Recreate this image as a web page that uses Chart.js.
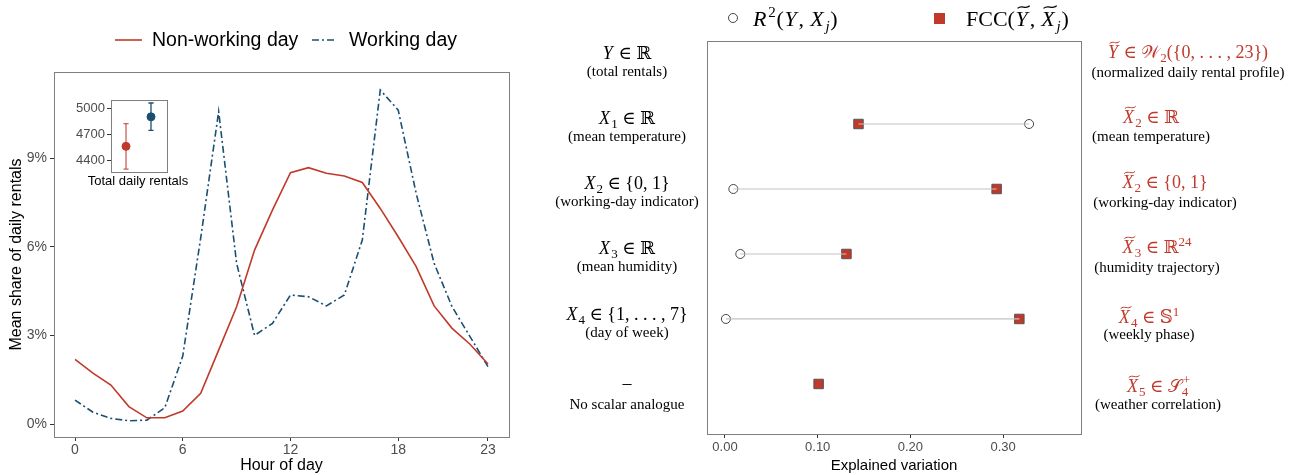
<!DOCTYPE html>
<html lang="en">
<head>
<meta charset="UTF-8">
<title>Bike rentals</title>
<script src="https://cdn.jsdelivr.net/npm/chart.js"></script>
<style>
    body { margin: 0; background: #fff; }
    #wrap { position: relative; width: 1303px; height: 475px; }
    canvas { position: absolute; }
    #profileChart { left: 0; top: 0; }
    #insetChart { left: 60px; top: 90px; }
    #variationChart { left: 540px; top: 0; }
</style>
</head>
<body>
<div id="wrap">
    <canvas id="profileChart" width="530" height="475"></canvas>
    <canvas id="insetChart" width="140" height="100"></canvas>
    <canvas id="variationChart" width="763" height="475"></canvas>
</div>
<script>
// --- data: hourly profile (mean share of daily rentals, %)
const hours = [0, 1, 2, 3, 4, 5, 6, 7, 8, 9, 10, 11, 12, 13, 14, 15, 16, 17, 18, 19, 20, 21, 22, 23];
const nonWorkingShare = [2.19, 1.72, 1.32, 0.59, 0.21, 0.21, 0.44, 1.04, 2.50, 3.97, 5.89, 7.25,
                         8.51, 8.68, 8.49, 8.40, 8.18, 7.30, 6.34, 5.33, 4.00, 3.24, 2.70, 2.03];
const workingShare = [0.81, 0.40, 0.19, 0.11, 0.13, 0.55, 2.30, 6.30, 10.58, 5.44, 3.00, 3.41,
                      4.37, 4.31, 4.00, 4.37, 6.23, 11.31, 10.63, 7.81, 5.44, 3.97, 2.96, 1.94];
const hourTicks = [0, 6, 12, 18, 23];
const shareTicks = [0, 3, 6, 9];

// --- data: inset (total daily rentals)
const dayTypes = ['Non-working day', 'Working day'];
const totalMean = [4560, 4902];
const totalLow = [4297, 4745];
const totalHigh = [4822, 5062];
const totalTicks = [4400, 4700, 5000];

// --- data: explained variation
const rowIds = ['Y', 'X1', 'X2', 'X3', 'X4', 'X5'];
const r2Values = [null, 0.328, 0.009, 0.0165, 0.001, null];
const fccValues = [null, 0.144, 0.293, 0.131, 0.3175, 0.101];
const variationTicks = [0, 0.1, 0.2, 0.3];

// row labels (text pieces: [text, style])
const scalarMath = [
    [['Y', 'i'], [' \u2208 ', 'r'], ['\u211D', 'r']],
    [['X', 'i'], ['1', 'sub'], [' \u2208 ', 'r'], ['\u211D', 'r']],
    [['X', 'i'], ['2', 'sub'], [' \u2208 {0, 1}', 'r']],
    [['X', 'i'], ['3', 'sub'], [' \u2208 ', 'r'], ['\u211D', 'r']],
    [['X', 'i'], ['4', 'sub'], [' \u2208 {1, . . . , 7}', 'r']],
    [['\u2013', 'r']]
];
const scalarNotes = ['(total rentals)', '(mean temperature)', '(working-day indicator)',
                     '(mean humidity)', '(day of week)', 'No scalar analogue'];
const objectMath = [
    [['Y', 'it'], [' \u2208 ', 'r'], ['\uD835\uDCB2', 'r'], ['2', 'sub'], ['({0, . . . , 23})', 'r']],
    [['X', 'it'], ['2', 'sub'], [' \u2208 ', 'r'], ['\u211D', 'r']],
    [['X', 'it'], ['2', 'sub'], [' \u2208 {0, 1}', 'r']],
    [['X', 'it'], ['3', 'sub'], [' \u2208 ', 'r'], ['\u211D', 'r'], ['24', 'sup']],
    [['X', 'it'], ['4', 'sub'], [' \u2208 ', 'r'], ['\uD835\uDD4A', 'r'], ['1', 'sup']],
    [['X', 'it'], ['5', 'sub'], [' \u2208 ', 'r'], ['\uD835\uDCAE', 'r'], ['4', 'sub', '+']]
];
const objectNotes = ['(normalized daily rental profile)', '(mean temperature)', '(working-day indicator)',
                     '(humidity trajectory)', '(weekly phase)', '(weather correlation)'];
const r2Legend = [['R', 'i'], ['2', 'sup'], ['(', 'r'], ['Y', 'i'], [', ', 'r'], ['X', 'i'], ['j', 'subi'], [')', 'r']];
const fccLegend = [['FCC(', 'r'], ['Y', 'it'], [', ', 'r'], ['X', 'it'], ['j', 'subi'], [')', 'r']];

const RED = '#C0392B';
const BLUE = '#1B4F72';
const SANS = "'Liberation Sans', Arial, sans-serif";
const SERIF = "'Liberation Serif', 'DejaVu Serif', 'DejaVu Sans', serif";

function fontFor(st, size) {
    const small = (st === 'sub' || st === 'sup' || st === 'subi') ? Math.round(size * 0.7) : size;
    const italic = (st === 'i' || st === 'it' || st === 'subi') ? 'italic ' : '';
    return italic + small + 'px ' + SERIF;
}

// draws a small piece of math-like text, centred on cx (or starting at cx)
function drawRich(ctx, parts, cx, y, size, color, align, gap) {
    gap = gap || 0;
    const widths = [];
    let total = 0;
    parts.forEach(([txt, st, extra]) => {
        ctx.font = fontFor(st, size);
        let w = ctx.measureText(txt).width;
        if (extra) { ctx.font = fontFor('sup', size); w = Math.max(w, ctx.measureText(extra).width); }
        if (st === 'i' || st === 'it') w += size * 0.06;
        w += gap;
        widths.push(w);
        total += w;
    });
    let x = align === 'left' ? cx : cx - total / 2;
    ctx.save();
    ctx.fillStyle = color;
    ctx.strokeStyle = color;
    ctx.textAlign = 'left';
    ctx.textBaseline = 'alphabetic';
    parts.forEach(([txt, st, extra], i) => {
        let dy = 0;
        if (st === 'sub' || st === 'subi') dy = size * 0.22;
        if (st === 'sup') dy = -size * 0.4;
        ctx.font = fontFor(st, size);
        ctx.fillText(txt, x, y + dy);
        if (extra) { ctx.font = fontFor('sup', size); ctx.fillText(extra, x + 1, y - size * 0.45); }
        if (st === 'it') {
            const w = widths[i] - gap;
            const x0 = x + w * 0.15, x1 = x + w * 1.05, ty = y - size * 0.86, a = size * 0.06;
            ctx.beginPath();
            ctx.moveTo(x0, ty + a);
            ctx.bezierCurveTo(x0 + (x1 - x0) * 0.35, ty - a * 2.2, x0 + (x1 - x0) * 0.65, ty + a * 2.2, x1, ty - a);
            ctx.lineWidth = size * 0.055;
            ctx.stroke();
        }
        x += widths[i];
    });
    ctx.restore();
}

const panelBorder = {
    id: 'panelBorder',
    afterDraw(chart, args, opts) {
        const { ctx, chartArea: a } = chart;
        ctx.save();
        ctx.strokeStyle = opts.color || '#7f7f7f';
        ctx.lineWidth = 1;
        ctx.strokeRect(Math.round(a.left) + 0.5, Math.round(a.top) + 0.5,
                       Math.round(a.right - a.left), Math.round(a.bottom - a.top));
        ctx.restore();
    }
};

const insetExtras = {
    id: 'insetExtras',
    beforeDatasetsDraw(chart) {
        const { ctx, chartArea: a } = chart;
        ctx.save();
        ctx.fillStyle = '#fff';
        ctx.fillRect(a.left, a.top, a.right - a.left, a.bottom - a.top);
        ctx.restore();
    },
    afterDraw(chart) {
        const { ctx, chartArea: a } = chart;
        ctx.save();
        ctx.fillStyle = '#000';
        ctx.font = '13px ' + SANS;
        ctx.textAlign = 'center';
        ctx.textBaseline = 'middle';
        ctx.fillText('Total daily rentals', (a.left + a.right) / 2 - 1, a.bottom + 9);
        ctx.restore();
    }
};

// legend for the hourly profile
const profileLegend = {
    id: 'profileLegend',
    afterDraw(chart) {
        const ctx = chart.ctx;
        ctx.save();
        ctx.lineWidth = 1.6;
        ctx.strokeStyle = RED;
        ctx.beginPath(); ctx.moveTo(115, 40); ctx.lineTo(142, 40); ctx.stroke();
        ctx.strokeStyle = BLUE;
        ctx.setLineDash([7, 3, 2, 3]);
        ctx.beginPath(); ctx.moveTo(312, 40); ctx.lineTo(336, 40); ctx.stroke();
        ctx.setLineDash([]);
        ctx.fillStyle = '#000';
        ctx.font = '19.5px ' + SANS;
        ctx.textBaseline = 'middle';
        ctx.fillText(dayTypes[0], 152, 41);
        ctx.fillText(dayTypes[1], 349, 41);
        ctx.restore();
    }
};

const gridTicks = { drawOnChartArea: false, drawTicks: true, tickLength: 4, color: '#333' };

new Chart(document.getElementById('profileChart'), {
    type: 'line',
    data: {
        datasets: [
            {
                label: dayTypes[0],
                data: hours.map((h, i) => ({ x: h, y: nonWorkingShare[i] })),
                borderColor: RED, borderWidth: 1.6, pointRadius: 0, tension: 0
            },
            {
                label: dayTypes[1],
                data: hours.map((h, i) => ({ x: h, y: workingShare[i] })),
                borderColor: BLUE, borderWidth: 1.6, borderDash: [7, 3, 2, 3], pointRadius: 0, tension: 0
            }
        ]
    },
    options: {
        responsive: false, animation: false, devicePixelRatio: 1,
        layout: { padding: { top: 72, right: 21, left: 0, bottom: 0 } },
        plugins: { legend: { display: false }, tooltip: { enabled: false } },
        scales: {
            x: {
                type: 'linear', min: -1.17, max: 24.17,
                afterBuildTicks: s => { s.ticks = hourTicks.map(v => ({ value: v })); },
                afterFit: s => { s.height = 38; },
                grid: gridTicks, border: { display: false },
                ticks: { color: '#4d4d4d', font: { family: SANS, size: 14 }, padding: 1, maxRotation: 0, callback: v => v },
                title: { display: true, text: 'Hour of day', color: '#000', font: { family: SANS, size: 16 }, padding: 0 }
            },
            y: {
                type: 'linear', min: -0.44, max: 11.92,
                afterBuildTicks: s => { s.ticks = shareTicks.map(v => ({ value: v })); },
                afterFit: s => { s.width = 54; },
                grid: gridTicks, border: { display: false },
                ticks: { color: '#4d4d4d', font: { family: SANS, size: 14 }, padding: 3, callback: v => v + '%' },
                title: { display: true, text: 'Mean share of daily rentals', color: '#000', font: { family: SANS, size: 16 }, padding: { top: 7, bottom: 0 } }
            }
        }
    },
    plugins: [panelBorder, profileLegend]
});

const barColors = ['rgba(192,57,43,0.8)', BLUE];
new Chart(document.getElementById('insetChart'), {
    type: 'scatter',
    data: {
        datasets: dayTypes.map((d, i) => ({
            type: 'line',
            data: [{ x: i, y: totalLow[i] }, { x: i, y: totalHigh[i] }],
            borderColor: barColors[i], borderWidth: 1.3,
            pointStyle: 'line', pointRadius: 2.6, pointBorderColor: barColors[i], pointBorderWidth: 1.3
        })).concat([{
            data: totalMean.map((m, i) => ({ x: i, y: m })),
            pointRadius: 4, backgroundColor: [RED, BLUE], borderColor: [RED, BLUE]
        }])
    },
    options: {
        responsive: false, animation: false, devicePixelRatio: 1,
        layout: { padding: { top: 9, right: 33, left: 0, bottom: 0 } },
        plugins: { legend: { display: false }, tooltip: { enabled: false } },
        scales: {
            x: {
                type: 'linear', min: -0.6, max: 1.64,
                afterFit: s => { s.height = 18; },
                ticks: { display: false }, grid: { display: false }, border: { display: false }
            },
            y: {
                type: 'linear', min: 4263, max: 5099,
                afterBuildTicks: s => { s.ticks = totalTicks.map(v => ({ value: v })); },
                afterFit: s => { s.width = 51; },
                grid: gridTicks, border: { display: false },
                ticks: { color: '#4d4d4d', font: { family: SANS, size: 13 }, padding: 2, callback: v => String(v) }
            }
        }
    },
    plugins: [insetExtras, panelBorder]
});

// row labels either side of the dot plot
const objectCentres = [648, 611, 625, 617, 609, 618];
const scalarShift = [0, 0, 0, 0, 1, 5];
const objectMathShift = [0, 0, 0, 0, 5, 9];
const objectNoteShift = [0, -1, 0, 0, 2, 7];
const rowLabels = {
    id: 'rowLabels',
    afterDraw(chart) {
        const ctx = chart.ctx;
        const yScale = chart.scales.y;
        rowIds.forEach((id, i) => {
            const y = yScale.getPixelForValue(i);
            drawRich(ctx, scalarMath[i], 87, y + scalarShift[i], 18, '#000');
            ctx.save();
            ctx.font = '15px ' + SERIF;
            ctx.fillStyle = '#000';
            ctx.textAlign = 'center';
            ctx.textBaseline = 'alphabetic';
            ctx.fillText(scalarNotes[i], 87, y + 17 + scalarShift[i] + (i === 5 ? 3 : 0));
            ctx.fillText(objectNotes[i], objectCentres[i], y + 18 + objectNoteShift[i]);
            ctx.restore();
            drawRich(ctx, objectMath[i], objectCentres[i], y - 1 + objectMathShift[i], 18, RED);
        });
        // legend
        ctx.save();
        ctx.beginPath();
        ctx.arc(193, 18, 4.5, 0, Math.PI * 2);
        ctx.fillStyle = '#fff'; ctx.fill();
        ctx.strokeStyle = '#333'; ctx.lineWidth = 0.9; ctx.stroke();
        ctx.fillStyle = RED;
        ctx.fillRect(394, 13, 11, 11);
        ctx.restore();
        drawRich(ctx, r2Legend, 213, 26, 22, '#000', 'left', 0.6);
        drawRich(ctx, fccLegend, 426, 26, 22, '#000', 'left', 0.6);
    }
};

const linkDatasets = rowIds.map((id, i) => ({ i: i, r: r2Values[i], f: fccValues[i] }))
    .filter(d => d.r !== null && d.f !== null)
    .map(d => ({
        type: 'line',
        data: [{ x: d.r, y: d.i }, { x: d.f, y: d.i }],
        borderColor: '#c4c4c4', borderWidth: 1.2, pointRadius: 0
    }));

new Chart(document.getElementById('variationChart'), {
    type: 'scatter',
    data: {
        datasets: linkDatasets.concat([
            {
                label: 'R2',
                data: r2Values.map((v, i) => ({ x: v, y: i })).filter(p => p.x !== null),
                pointStyle: 'circle', pointRadius: 4.5,
                backgroundColor: '#fff', borderColor: '#333', borderWidth: 0.9
            },
            {
                label: 'FCC',
                data: fccValues.map((v, i) => ({ x: v, y: i })).filter(p => p.x !== null),
                pointStyle: 'rect', pointRadius: 6.7,
                backgroundColor: RED, borderColor: '#555', borderWidth: 1
            }
        ])
    },
    options: {
        responsive: false, animation: false, devicePixelRatio: 1,
        layout: { padding: { top: 41, right: 222, left: 167, bottom: 0 } },
        plugins: { legend: { display: false }, tooltip: { enabled: false } },
        scales: {
            x: {
                type: 'linear', min: -0.0194, max: 0.384,
                afterBuildTicks: s => { s.ticks = variationTicks.map(v => ({ value: v })); },
                afterFit: s => { s.height = 41; },
                grid: gridTicks, border: { display: false },
                ticks: { color: '#4d4d4d', font: { family: SANS, size: 13 }, padding: 2, maxRotation: 0, callback: v => v.toFixed(2) },
                title: { display: true, text: 'Explained variation', color: '#000', font: { family: SANS, size: 15 }, padding: 0 }
            },
            y: { type: 'linear', display: false, reverse: true, min: -0.277, max: 5.77 }
        }
    },
    plugins: [panelBorder, rowLabels]
});
</script>
</body>
</html>
